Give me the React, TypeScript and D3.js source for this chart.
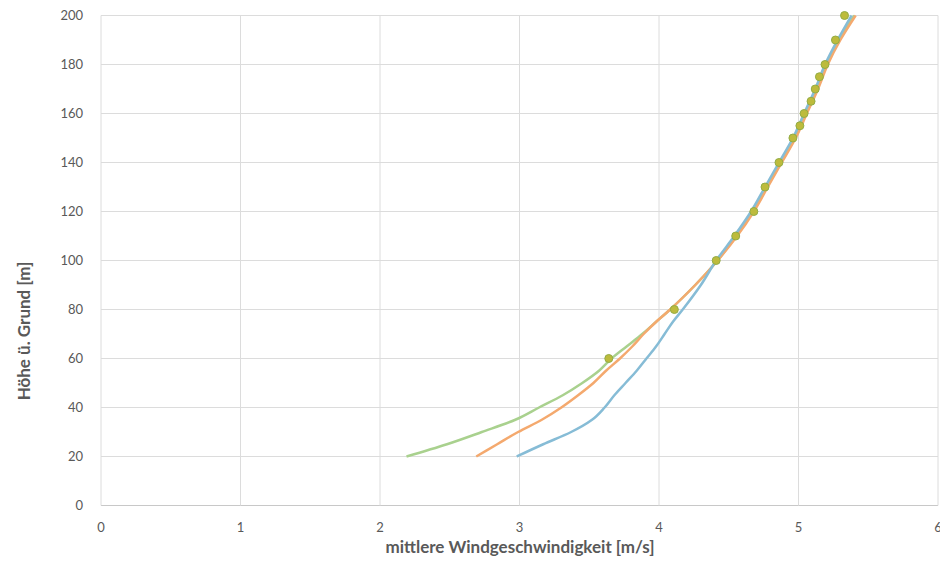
import * as d3 from "d3";
import { useEffect, useRef } from "react";

// heights above ground [m] for the three modelled profiles
const lineHeights = [20, 25, 30, 35, 40, 45, 50, 55, 60, 65, 70, 75, 80, 90, 100, 110, 120, 130, 140, 150, 160, 170, 180, 190, 200];
const blueSpeeds = [2.98, 3.17, 3.37, 3.52, 3.61, 3.68, 3.76, 3.84, 3.91, 3.98, 4.04, 4.1, 4.17, 4.3, 4.41, 4.54, 4.66, 4.76, 4.86, 4.96, 5.04, 5.12, 5.19, 5.28, 5.38];
const orangeSpeeds = [2.69, 2.84, 2.99, 3.16, 3.3, 3.42, 3.53, 3.62, 3.72, 3.81, 3.89, 3.98, 4.08, 4.26, 4.42, 4.56, 4.68, 4.78, 4.88, 4.98, 5.06, 5.14, 5.21, 5.3, 5.41];
const greenSpeeds = [2.19, 2.48, 2.73, 2.97, 3.14, 3.31, 3.45, 3.57, 3.66, 3.77, 3.88, 3.98, 4.08, 4.26, 4.42, 4.55, 4.67, 4.77, 4.87, 4.97, 5.05, 5.13, 5.2, 5.29, 5.4];

// measured points
const pointHeights = [60, 80, 100, 110, 120, 130, 140, 150, 155, 160, 165, 170, 175, 180, 190, 200];
const pointSpeeds = [3.64, 4.11, 4.41, 4.55, 4.68, 4.76, 4.86, 4.96, 5.01, 5.04, 5.09, 5.12, 5.15, 5.19, 5.265, 5.33];

const xTicks = [0, 1, 2, 3, 4, 5, 6];
const yTicks = [0, 20, 40, 60, 80, 100, 120, 140, 160, 180, 200];

const series = [
  { speeds: greenSpeeds, color: "#a9d18e" },
  { speeds: orangeSpeeds, color: "#f4a96e" },
  { speeds: blueSpeeds, color: "#86bcd6" },
];

const App = () => {
  const svgRef = useRef<SVGSVGElement>(null);

  useEffect(() => {
    document.body.style.margin = "0";
    const svg = d3.select(svgRef.current);
    svg.selectAll("*").remove();

    const font = "Lato, 'Open Sans', sans-serif";
    const x = d3.scaleLinear().domain([0, 6]).range([101, 938]);
    const y = d3.scaleLinear().domain([0, 200]).range([505.5, 15.5]);

    // gridlines
    svg
      .append("g")
      .selectAll("line")
      .data(yTicks)
      .join("line")
      .attr("x1", x(0))
      .attr("x2", x(6))
      .attr("y1", (d) => y(d))
      .attr("y2", (d) => y(d))
      .attr("stroke", (d) => (d === 0 ? "#c8c8c8" : "#dcdcdc"))
      .attr("stroke-width", 1);

    svg
      .append("g")
      .selectAll("line")
      .data(xTicks)
      .join("line")
      .attr("x1", (d) => x(d))
      .attr("x2", (d) => x(d))
      .attr("y1", y(0))
      .attr("y2", y(200))
      .attr("stroke", "#dcdcdc")
      .attr("stroke-width", 1);

    // tick labels
    svg
      .append("g")
      .selectAll("text")
      .data(yTicks)
      .join("text")
      .attr("x", 83)
      .attr("y", (d) => y(d) + 4.5)
      .attr("text-anchor", "end")
      .attr("font-family", font)
      .attr("font-size", 13)
      .attr("fill", "#595959")
      .text((d) => d);

    svg
      .append("g")
      .selectAll("text")
      .data(xTicks)
      .join("text")
      .attr("x", (d) => x(d))
      .attr("y", 532)
      .attr("text-anchor", "middle")
      .attr("font-family", font)
      .attr("font-size", 13)
      .attr("fill", "#595959")
      .text((d) => d);

    // axis titles
    svg
      .append("text")
      .attr("x", 520)
      .attr("y", 553)
      .attr("text-anchor", "middle")
      .attr("font-family", font)
      .attr("font-size", 17)
      .attr("font-weight", "bold")
      .attr("fill", "#595959")
      .text("mittlere Windgeschwindigkeit [m/s]");

    svg
      .append("text")
      .attr("transform", "translate(30,331) rotate(-90)")
      .attr("text-anchor", "middle")
      .attr("font-family", font)
      .attr("font-size", 17)
      .attr("font-weight", "bold")
      .attr("fill", "#595959")
      .text("Höhe ü. Grund [m]");

    // profile lines
    const line = d3
      .line<number>()
      .x((d) => x(d))
      .y((_, i) => y(lineHeights[i]))
      .curve(d3.curveMonotoneY);

    series.forEach((s) => {
      svg
        .append("path")
        .datum(s.speeds)
        .attr("fill", "none")
        .attr("stroke", s.color)
        .attr("stroke-width", 2.5)
        .attr("stroke-linejoin", "round")
        .attr("d", line);
    });

    // measured points
    svg
      .append("g")
      .selectAll("circle")
      .data(pointSpeeds)
      .join("circle")
      .attr("cx", (d) => x(d))
      .attr("cy", (_, i) => y(pointHeights[i]))
      .attr("r", 4)
      .attr("fill", "#bdbb3c")
      .attr("stroke", "#93ad45")
      .attr("stroke-width", 1);
  }, []);

  return <svg ref={svgRef} width={940} height={566} style={{ display: "block", background: "#fff" }} />;
};

export default App;
